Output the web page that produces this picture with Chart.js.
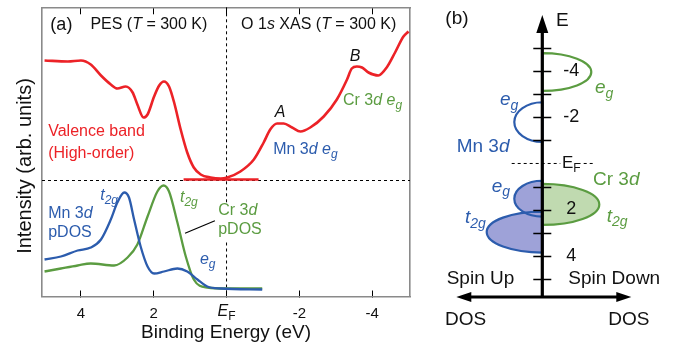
<!DOCTYPE html>
<html>
<head>
<meta charset="utf-8">
<script src="https://cdn.jsdelivr.net/npm/chart.js@4.4.1/dist/chart.umd.min.js"></script>
<style>
  body { margin: 0; background: #fff; }
  #wrap { position: relative; width: 678px; height: 350px; }
  canvas { position: absolute; top: 0; }
</style>
</head>
<body>
<div id="wrap">
  <canvas id="pa" width="420" height="350" style="left:0"></canvas>
  <canvas id="pb" width="258" height="350" style="left:420px"></canvas>
</div>
<script>
// ---- panel (a): PES / XAS spectra and pDOS ----
const vbEnergy = [5.0, 4.36, 4.0, 3.73, 3.45, 3.18, 3.0, 2.77, 2.58, 2.45, 2.28, 2.17, 1.99, 1.85, 1.72, 1.58, 1.44, 1.26, 1.08, 0.9, 0.71, 0.44, 0.16, -0.02, -0.38, -0.75, -1.02, -1.2, -1.39, -1.57, -1.8, -2.03, -2.3, -2.67, -3.03, -3.31, -3.44, -3.58, -3.72, -3.9, -4.17, -4.4, -4.63, -4.86, -5.0];
const vbIntensity = [236, 235, 236, 232, 221, 212, 208, 210, 204, 192, 179, 182, 200, 211, 215, 210, 194, 167, 144, 129, 122, 119, 118, 119, 125, 137, 154, 167, 173, 173, 169, 165, 169, 180, 197, 217, 228, 230, 229, 224, 221, 229, 244, 260, 265];
const flatEnergy = [1.18, -0.88];
const flatIntensity = [117, 117];
const mnEnergy = [5.0, 4.55, 4.09, 3.73, 3.45, 3.18, 3.0, 2.81, 2.68, 2.54, 2.36, 2.17, 1.99, 1.72, 1.35, 1.08, 0.8, 0.53, 0.16, -0.98];
const mnDos = [37, 40, 46, 49, 57, 77, 94, 104, 99, 77, 50, 30, 23, 25, 28, 25, 17, 10, 8, 7];
const crEnergy = [5.0, 4.55, 4.09, 3.73, 3.09, 2.72, 2.45, 2.17, 1.9, 1.73, 1.58, 1.35, 1.12, 0.9, 0.53, -0.02, -0.98];
const crDos = [25, 28, 31, 33, 31, 39, 52, 80, 105, 111, 105, 74, 40, 17, 9, 8, 8];
const xTicks = [4, 2, 0, -2, -4];
const baseline = 116;

// ---- panel (b): schematic DOS ----
const lobeCenter = [-3.97, -1.8, 2.98, 1.53, 1.78];
const lobeHalf = [0.82, 0.86, 0.89, 0.78, 0.89];
const lobeDos = [49, -28, -55.6, -28, 57];
const lobeSpecies = ['Cr', 'Mn', 'Mn', 'Mn', 'Cr'];
const lobeFilled = [false, false, true, true, true];
const eTicks = [-5, -4, -3, -2, -1, 1, 2, 3, 4, 5];
const eTickLabels = [-4, -2, 2, 4];

const RED = '#ec2227', BLUE = '#2c5cad', GREEN = '#5b9c41', INK = '#111';
const FAM = '"Liberation Sans", Arial, Helvetica, sans-serif';
Chart.defaults.font.family = FAM;

function pts(xs, ys) {
  return xs.map((x, i) => ({ x: x, y: ys[i] }));
}

// text with italic / subscript pieces: style '' | 'i' | 's' | 'is'
function rich(ctx, x, y, parts, size, color, align) {
  const font = (st) => (st.includes('i') ? 'italic ' : '') +
    (st.includes('s') ? Math.round(size * 0.72) : size) + 'px ' + FAM;
  let w = 0;
  parts.forEach((p) => { ctx.font = font(p[1]); w += ctx.measureText(p[0]).width; });
  let cx = align === 'center' ? x - w / 2 : x;
  ctx.fillStyle = color;
  ctx.textAlign = 'left';
  ctx.textBaseline = 'middle';
  parts.forEach((p) => {
    ctx.font = font(p[1]);
    ctx.fillText(p[0], cx, y + (p[1].includes('s') ? size * 0.3 : 0));
    cx += ctx.measureText(p[0]).width;
  });
  return w;
}

const eg = [['e', 'i'], ['g', 'is']];
const t2g = [['t', 'i'], ['2g', 'is']];

const notesA = [
  { e: 4.84, v: 271.5, parts: [['(a)', '']], size: 18, color: INK },
  { e: 3.74, v: 271.5, parts: [['PES (', ''], ['T', 'i'], [' = 300 K)', '']], size: 16, color: INK },
  { e: -0.4, v: 271.5, parts: [['O 1', ''], ['s', 'i'], [' XAS (', ''], ['T', 'i'], [' = 300 K)', '']], size: 16, color: INK },
  { e: -3.53, v: 239.5, parts: [['B', 'i']], size: 16, color: INK, align: 'center' },
  { e: -1.47, v: 183.5, parts: [['A', 'i']], size: 16, color: INK, align: 'center' },
  { e: -3.2, v: 195.5, parts: [['Cr 3', ''], ['d', 'i'], [' ', '']].concat(eg), size: 16, color: GREEN },
  { e: 4.9, v: 164.5, parts: [['Valence band', '']], size: 16, color: RED },
  { e: 4.9, v: 142.5, parts: [['(High-order)', '']], size: 16, color: RED },
  { e: -1.28, v: 146.5, parts: [['Mn 3', ''], ['d', 'i'], [' ', '']].concat(eg), size: 16, color: BLUE },
  { e: 3.47, v: 100.5, parts: t2g, size: 16, color: BLUE },
  { e: 4.9, v: 82.5, parts: [['Mn 3', ''], ['d', 'i']], size: 16, color: BLUE },
  { e: 4.9, v: 63.5, parts: [['pDOS', '']], size: 16, color: BLUE },
  { e: 1.28, v: 98.5, parts: t2g, size: 16, color: GREEN },
  { e: 0.23, v: 85.5, parts: [['Cr 3', ''], ['d', 'i']], size: 16, color: GREEN },
  { e: 0.23, v: 66.5, parts: [['pDOS', '']], size: 16, color: GREEN },
  { e: 0.73, v: 36.5, parts: eg, size: 16, color: BLUE }
];

const panelA = {
  id: 'panelA',
  beforeDatasetsDraw(chart) {
    const { ctx, chartArea: ca, scales: { x, y } } = chart;
    ctx.save();
    ctx.strokeStyle = '#000';
    ctx.lineWidth = 1;
    ctx.setLineDash([3, 3]);
    const yb = y.getPixelForValue(baseline);
    const x0 = x.getPixelForValue(0);
    ctx.beginPath();
    ctx.moveTo(ca.left, yb); ctx.lineTo(ca.right, yb);
    ctx.moveTo(x0, ca.top); ctx.lineTo(x0, y.getPixelForValue(94));
    ctx.moveTo(x0, y.getPixelForValue(54)); ctx.lineTo(x0, ca.bottom);
    ctx.stroke();
    ctx.restore();
  },
  afterDatasetsDraw(chart) {
    const { ctx, chartArea: ca, scales: { x, y } } = chart;
    ctx.save();
    notesA.forEach((n) => {
      rich(ctx, x.getPixelForValue(n.e), y.getPixelForValue(n.v), n.parts, n.size, n.color, n.align);
    });
    // leader line to Cr 3d pDOS label
    ctx.strokeStyle = '#000';
    ctx.lineWidth = 1.2;
    ctx.beginPath();
    ctx.moveTo(x.getPixelForValue(1.14), y.getPixelForValue(63.2));
    ctx.lineTo(x.getPixelForValue(0.32), y.getPixelForValue(75.8));
    ctx.stroke();
    // E_F tick label
    rich(ctx, x.getPixelForValue(0), 311.5, [['E', 'i'], ['F', 's']], 16, INK, 'center');
    // y title
    ctx.translate(ca.left - 17, y.getPixelForValue(130.5));
    ctx.rotate(-Math.PI / 2);
    ctx.font = '20px ' + FAM;
    ctx.fillStyle = INK;
    ctx.textAlign = 'center';
    ctx.textBaseline = 'middle';
    ctx.fillText('Intensity (arb. units)', 0, 0);
    ctx.restore();
  }
};

const setTicks = (s) => { s.ticks = xTicks.map((v) => ({ value: v })); };
const boxBorder = { color: '#8a8a8a', width: 1.6 };

new Chart(document.getElementById('pa'), {
  type: 'line',
  data: {
    datasets: [
      { data: pts(vbEnergy, vbIntensity), borderColor: RED, borderWidth: 2.6 },
      { data: pts(flatEnergy, flatIntensity), borderColor: RED, borderWidth: 2.6 },
      { data: pts(mnEnergy, mnDos), borderColor: BLUE, borderWidth: 2.3 },
      { data: pts(crEnergy, crDos), borderColor: GREEN, borderWidth: 2.3 }
    ]
  },
  options: {
    responsive: false,
    animation: false,
    devicePixelRatio: 1,
    layout: { padding: { top: 7.3, right: 10, left: 0, bottom: 0 } },
    elements: {
      point: { radius: 0 },
      line: { cubicInterpolationMode: 'monotone', fill: false }
    },
    plugins: { legend: { display: false }, tooltip: { enabled: false } },
    scales: {
      x: {
        type: 'linear',
        reverse: true,
        min: -5.04,
        max: 5.07,
        afterBuildTicks: setTicks,
        afterFit: (s) => { s.height = 53.5; },
        grid: { drawOnChartArea: false, tickLength: -6, color: '#000' },
        border: boxBorder,
        ticks: {
          color: INK,
          font: { size: 15 },
          padding: 14,
          maxRotation: 0,
          callback: (v) => (v === 0 ? '' : String(v))
        },
        title: {
          display: true,
          text: 'Binding Energy (eV)',
          color: INK,
          font: { size: 19 },
          padding: { top: 0, bottom: 5.6 }
        }
      },
      x2: {
        type: 'linear',
        position: 'top',
        reverse: true,
        min: -5.04,
        max: 5.07,
        afterBuildTicks: setTicks,
        afterFit: (s) => { s.height = 0; },
        grid: { drawOnChartArea: false, tickLength: -7, color: '#000' },
        border: boxBorder,
        ticks: { display: false }
      },
      y: {
        min: 0,
        max: 289.2,
        afterFit: (s) => { s.width = 42; },
        grid: { display: false },
        border: boxBorder,
        ticks: { display: false }
      },
      y2: {
        position: 'right',
        min: 0,
        max: 289.2,
        afterFit: (s) => { s.width = 0; },
        grid: { display: false },
        border: boxBorder,
        ticks: { display: false }
      }
    }
  },
  plugins: [panelA]
});

// ---- panel (b) ----
const notesB = [
  { d: -97, e: -6.3, parts: [['(b)', '']], color: INK },
  { d: 13.7, e: -6.2, parts: [['E', '']], color: INK },
  { d: 52.7, e: -3.28, parts: eg, color: GREEN },
  { d: -42.3, e: -2.76, parts: eg, color: BLUE },
  { d: -85.6, e: -0.73, parts: [['Mn 3', ''], ['d', 'i']], color: BLUE },
  { d: 50.7, e: 0.72, parts: [['Cr 3', ''], ['d', 'i']], color: GREEN },
  { d: -50.6, e: 1.01, parts: eg, color: BLUE },
  { d: -77.3, e: 2.37, parts: t2g, color: BLUE },
  { d: 64.4, e: 2.31, parts: t2g, color: GREEN },
  { d: -95.6, e: 4.99, parts: [['Spin Up', '']], color: INK },
  { d: 26, e: 4.99, parts: [['Spin Down', '']], color: INK },
  { d: -97.3, e: 6.8, parts: [['DOS', '']], color: INK },
  { d: 66, e: 6.8, parts: [['DOS', '']], color: INK }
];

function lobePath(ctx, x, y, i) {
  const cx = x.getPixelForValue(0);
  const cy = y.getPixelForValue(lobeCenter[i]);
  const rx = Math.abs(x.getPixelForValue(lobeDos[i]) - cx);
  const ry = Math.abs(y.getPixelForValue(lobeCenter[i] + lobeHalf[i]) - cy);
  ctx.beginPath();
  if (lobeDos[i] > 0) ctx.ellipse(cx, cy, rx, ry, 0, -Math.PI / 2, Math.PI / 2);
  else ctx.ellipse(cx, cy, rx, ry, 0, Math.PI / 2, 1.5 * Math.PI);
  ctx.closePath();
}

const dosDiagram = {
  id: 'dosDiagram',
  afterDraw(chart) {
    const { ctx, chartArea: ca, scales: { x, y } } = chart;
    const x0 = x.getPixelForValue(0);
    ctx.save();
    lobeCenter.forEach((c, i) => {
      if (!lobeFilled[i]) return;
      lobePath(ctx, x, y, i);
      ctx.fillStyle = lobeSpecies[i] === 'Mn' ? '#9ea2d8' : '#c0dab0';
      ctx.fill();
    });
    lobeCenter.forEach((c, i) => {
      lobePath(ctx, x, y, i);
      ctx.strokeStyle = lobeSpecies[i] === 'Mn' ? BLUE : GREEN;
      ctx.lineWidth = 2.2;
      ctx.stroke();
    });

    // Fermi level
    const yf = y.getPixelForValue(0);
    ctx.strokeStyle = '#000';
    ctx.lineWidth = 1;
    ctx.setLineDash([3, 3]);
    ctx.beginPath();
    ctx.moveTo(x.getPixelForValue(-30.6), yf);
    ctx.lineTo(x.getPixelForValue(51), yf);
    ctx.stroke();
    ctx.setLineDash([]);
    ctx.fillStyle = '#fff';
    ctx.fillRect(x.getPixelForValue(18), yf - 8, 20, 16);
    rich(ctx, x.getPixelForValue(19.7), yf, [['E', ''], ['F', 's']], 17, INK);

    // energy ticks
    ctx.strokeStyle = '#000';
    ctx.lineWidth = 1.3;
    ctx.beginPath();
    eTicks.forEach((t) => {
      const py = Math.round(y.getPixelForValue(t)) + 0.5;
      ctx.moveTo(x0 - 9, py); ctx.lineTo(x0 + 9, py);
    });
    ctx.stroke();
    eTickLabels.forEach((t) => {
      rich(ctx, x.getPixelForValue(29), y.getPixelForValue(t), [[String(t), '']], 18, INK, 'center');
    });

    // axes with arrows
    ctx.fillStyle = '#000';
    ctx.lineWidth = 3.2;
    ctx.beginPath();
    ctx.moveTo(x0, ca.bottom); ctx.lineTo(x0, ca.top + 16);
    const xl = x.getPixelForValue(-86), xr = x.getPixelForValue(89);
    ctx.moveTo(xl + 13, ca.bottom); ctx.lineTo(xr - 13, ca.bottom);
    ctx.stroke();
    ctx.beginPath();
    ctx.moveTo(x0, ca.top); ctx.lineTo(x0 - 6, ca.top + 18); ctx.lineTo(x0 + 6, ca.top + 18); ctx.closePath();
    ctx.moveTo(xl, ca.bottom); ctx.lineTo(xl + 15, ca.bottom - 5); ctx.lineTo(xl + 15, ca.bottom + 5); ctx.closePath();
    ctx.moveTo(xr, ca.bottom); ctx.lineTo(xr - 15, ca.bottom - 5); ctx.lineTo(xr - 15, ca.bottom + 5); ctx.closePath();
    ctx.fill();

    notesB.forEach((n) => {
      rich(ctx, x.getPixelForValue(n.d), y.getPixelForValue(n.e), n.parts, 19, n.color);
    });
    ctx.restore();
  }
};

new Chart(document.getElementById('pb'), {
  type: 'scatter',
  data: { datasets: [] },
  options: {
    responsive: false,
    animation: false,
    devicePixelRatio: 1,
    layout: { padding: { left: 32.3, right: 45.7, top: 15, bottom: 53 } },
    plugins: { legend: { display: false }, tooltip: { enabled: false } },
    scales: {
      x: { type: 'linear', min: -90, max: 90, display: false },
      y: { type: 'linear', min: -6.45, max: 5.8, reverse: true, display: false }
    }
  },
  plugins: [dosDiagram]
});
</script>
</body>
</html>
